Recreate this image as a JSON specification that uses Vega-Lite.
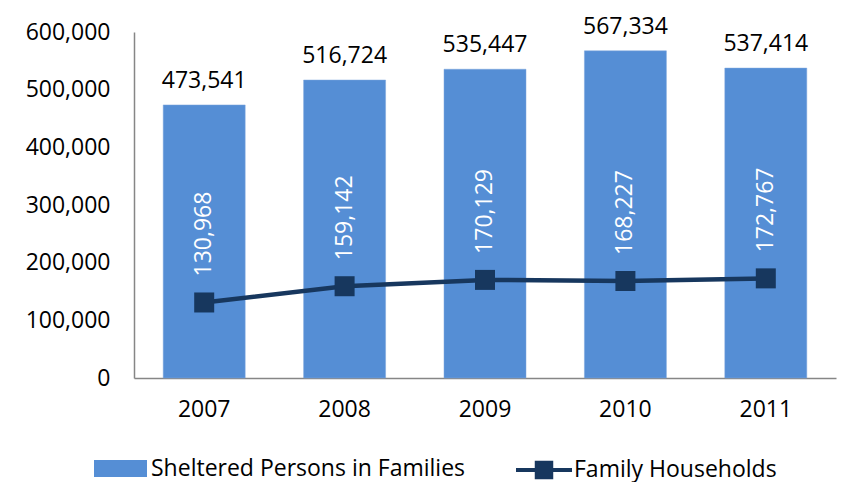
{
  "$schema": "https://vega.github.io/schema/vega-lite/v6.json",
  "width": 702,
  "height": 346,
  "autosize": "none",
  "padding": {"left": 134, "top": 32, "right": 24, "bottom": 104},
  "background": "white",
  "config": {
    "font": "Open Sans",
    "view": {"stroke": null},
    "axis": {"labelFont": "Open Sans", "labelFontSize": 23, "labelColor": "#000000", "domainColor": "#868686", "domainWidth": 1.5, "ticks": false, "grid": false, "title": null, "labelOverlap": false, "labelFlush": false},
    "legend": {"labelFont": "Open Sans", "labelFontSize": 23, "labelColor": "#000000", "labelLimit": 0}
  },
  "data": {
    "values": [
      {"year": "2007", "persons": 473541, "households": 130968},
      {"year": "2008", "persons": 516724, "households": 159142},
      {"year": "2009", "persons": 535447, "households": 170129},
      {"year": "2010", "persons": 567334, "households": 168227},
      {"year": "2011", "persons": 537414, "households": 172767}
    ]
  },
  "encoding": {
    "x": {"field": "year", "type": "nominal", "scale": {"paddingInner": 0.416, "paddingOuter": 0.208}, "axis": {"labelAngle": 0, "labelPadding": 20}}
  },
  "layer": [
    {
      "mark": {"type": "bar", "stroke": "#7fa6dc", "strokeWidth": 0.5},
      "encoding": {
        "y": {"field": "persons", "type": "quantitative", "scale": {"domain": [0, 600000], "nice": false}, "axis": {"values": [0, 100000, 200000, 300000, 400000, 500000, 600000], "format": ",d", "labelPadding": 24}},
        "color": {"datum": "Sheltered Persons in Families", "type": "nominal", "scale": {"range": ["#558ED5"]}, "legend": {"orient": "none", "legendX": -40, "legendY": 410, "symbolType": "M-1,-0.32H1V0.32H-1Z", "symbolSize": 2809, "symbolStrokeWidth": 0, "labelOffset": 4, "title": null}}
      }
    },
    {
      "mark": {"type": "text", "baseline": "bottom", "dy": -12, "fontSize": 23, "color": "#000000"},
      "encoding": {
        "y": {"field": "persons", "type": "quantitative"},
        "text": {"field": "persons", "type": "quantitative", "format": ","}
      }
    },
    {
      "mark": {"type": "line", "strokeWidth": 4.5},
      "encoding": {
        "y": {"field": "households", "type": "quantitative"},
        "stroke": {"datum": "Family Households", "type": "nominal", "scale": {"range": ["#17375E"]}, "legend": {"orient": "none", "legendX": 382, "legendY": 410, "symbolType": "M-1,-0.07H1V0.07H-1Z M-0.33,-0.33H0.33V0.33H-0.33Z", "symbolSize": 3136, "symbolFillColor": "#17375E", "symbolStrokeWidth": 0, "labelOffset": 2, "title": null}}
      }
    },
    {
      "mark": {"type": "point", "shape": "square", "filled": true, "size": 400, "color": "#17375E", "opacity": 1},
      "encoding": {
        "y": {"field": "households", "type": "quantitative"}
      }
    },
    {
      "mark": {"type": "text", "angle": 270, "align": "left", "baseline": "middle", "dx": 26, "fontSize": 23, "color": "#ffffff"},
      "encoding": {
        "y": {"field": "households", "type": "quantitative"},
        "text": {"field": "households", "type": "quantitative", "format": ","}
      }
    }
  ]
}
